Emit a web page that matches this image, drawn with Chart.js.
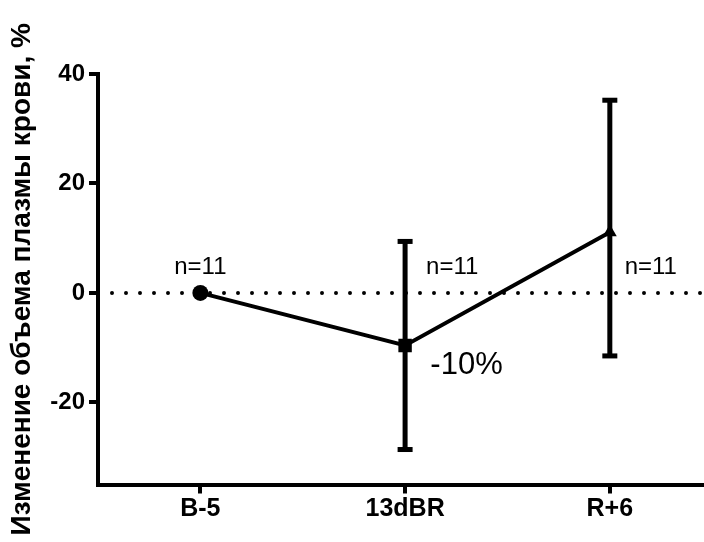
<!DOCTYPE html>
<html>
<head>
<meta charset="utf-8">
<script src="https://cdn.jsdelivr.net/npm/chart.js@4/dist/chart.umd.min.js"></script>
<style>
  html, body { margin: 0; padding: 0; background: #fff; overflow: hidden; }
  #wrap { width: 712px; height: 542px; position: relative; }
  canvas { display: block; }
</style>
</head>
<body>
<div id="wrap"><canvas id="chart"></canvas></div>
<script>
const categories = ['B-5', '13dBR', 'R+6'];
const means = [0, -9.6, 11.1];
const errLow = [null, -28.7, -11.6];
const errHigh = [null, 9.5, 35.3];
const pointStyles = ['circle', 'rect', 'triangle'];
const pointSizes = [8, 9.5, 8];
const yTicks = [40, 20, 0, -20];
const nLabels = ['n=11', 'n=11', 'n=11'];
const nLabelX = [0, 1.23, 2.2];
const nLabelY = [4.7, 4.7, 4.7];
const noteText = '-10%';
const noteX = 1.3;
const noteY = -13.3;

const FONT = "'Liberation Sans', Arial, sans-serif";

const errorBars = {
  id: 'errorBars',
  afterDatasetsDraw(chart) {
    const { ctx, scales: { x, y } } = chart;
    ctx.save();
    ctx.strokeStyle = '#000';
    ctx.fillStyle = '#000';
    means.forEach((m, i) => {
      if (errLow[i] == null) return;
      const px = x.getPixelForValue(i);
      const top = y.getPixelForValue(errHigh[i]);
      const bot = y.getPixelForValue(errLow[i]);
      ctx.lineWidth = 5;
      ctx.beginPath();
      ctx.moveTo(px, top);
      ctx.lineTo(px, bot);
      ctx.stroke();
      ctx.fillRect(px - 7.5, top - 2, 15, 5);
      ctx.fillRect(px - 7.5, bot - 3, 15, 5);
    });
    ctx.restore();
  }
};

const notes = {
  id: 'notes',
  afterDraw(chart) {
    const { ctx, scales: { x, y } } = chart;
    ctx.save();
    ctx.fillStyle = '#000';
    ctx.textAlign = 'center';
    ctx.textBaseline = 'middle';
    ctx.font = '24px ' + FONT;
    nLabels.forEach((t, i) => {
      ctx.fillText(t, x.getPixelForValue(nLabelX[i]), y.getPixelForValue(nLabelY[i]));
    });
    ctx.font = '31px ' + FONT;
    ctx.fillText(noteText, x.getPixelForValue(noteX), y.getPixelForValue(noteY));
    ctx.restore();
  }
};

new Chart(document.getElementById('chart'), {
  type: 'line',
  data: {
    datasets: [
      {
        data: means.map((v, i) => ({ x: i, y: v })),
        borderColor: '#000',
        backgroundColor: '#000',
        borderWidth: 4,
        pointStyle: pointStyles,
        pointRadius: pointSizes,
        pointBorderWidth: 0,
        tension: 0
      },
      {
        data: [{ x: -0.5, y: 0 }, { x: 2.46, y: 0 }],
        borderColor: '#000',
        borderWidth: 4,
        borderDash: [0, 14],
        borderCapStyle: 'round',
        pointRadius: 0
      }
    ]
  },
  options: {
    responsive: true,
    maintainAspectRatio: false,
    animation: false,
    layout: { padding: { top: 74, right: 0, left: 0, bottom: 0 } },
    plugins: { legend: { display: false }, tooltip: { enabled: false } },
    scales: {
      x: {
        type: 'linear',
        min: -0.5,
        max: 2.46,
        afterBuildTicks: (s) => { s.ticks = categories.map((c, i) => ({ value: i })); },
        afterFit: (s) => { s.height = 57.5; },
        border: { color: '#000', width: 4 },
        grid: { drawOnChartArea: false, color: '#000', lineWidth: 4, tickLength: 9 },
        ticks: {
          color: '#000',
          font: { family: FONT, size: 25, weight: 'bold' },
          padding: 1,
          callback: (v) => categories[v]
        }
      },
      y: {
        min: -35,
        max: 40,
        afterBuildTicks: (s) => { s.ticks = yTicks.map(v => ({ value: v })); },
        afterFit: (s) => { s.width = 98; },
        border: { color: '#000', width: 4 },
        grid: { drawOnChartArea: false, color: '#000', lineWidth: 4, tickLength: 9 },
        ticks: {
          color: '#000',
          font: { family: FONT, size: 24, weight: 'bold' },
          padding: 4
        },
        title: {
          display: true,
          text: 'Изменение объема плазмы крови, %',
          color: '#000',
          font: { family: FONT, size: 28, weight: 'bold' },
          padding: { top: 5, bottom: 0 }
        }
      }
    }
  },
  plugins: [errorBars, notes]
});
</script>
</body>
</html>
